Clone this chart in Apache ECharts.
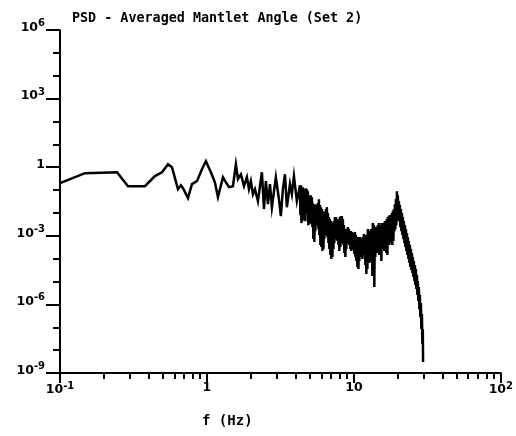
<!DOCTYPE html>
<html>
<head>
<meta charset="utf-8">
<script src="https://cdn.jsdelivr.net/npm/echarts@6/dist/echarts.min.js"></script>
<style>
html,body{margin:0;padding:0;background:#fff;}
#chart{width:516px;height:436px;}
</style>
</head>
<body>
<div id="chart"></div>
<script>
// Values, stored as base-10 exponents
// (log10 of frequency in Hz, log10 of PSD).
// Low-frequency part (0.1 .. ~4.2 Hz)
const log10FreqLow = [
  -1.000,-0.830,-0.612,-0.537,-0.422,-0.354,-0.306,-0.265,-0.238,-0.197,
  -0.177,-0.163,-0.129,-0.102,-0.068,-0.034,-0.007,0.027,0.054,0.075,
  0.109,0.129,0.150,0.177,0.197,0.211,0.231,0.252,0.272,0.286,
  0.299,0.313,0.327,0.347,0.374,0.388,0.401,0.415,0.429,0.442,
  0.469,0.490,0.503,0.517,0.531,0.544,0.565,0.578,0.592,0.612,
  0.626
];
const log10PsdLow = [
  -0.70,-0.26,-0.22,-0.83,-0.83,-0.39,-0.22,0.13,0.00,-0.96,
  -0.79,-0.92,-1.35,-0.74,-0.61,-0.09,0.26,-0.22,-0.66,-1.31,
  -0.44,-0.66,-0.87,-0.83,0.13,-0.52,-0.31,-0.83,-0.44,-0.96,
  -0.61,-1.18,-0.96,-1.48,-0.22,-1.83,-0.61,-1.62,-0.74,-1.75,
  -0.44,-1.40,-2.14,-0.96,-0.31,-1.75,-0.74,-1.18,-0.39,-1.48,
  -1.05
];
// Dense high-frequency part (~4.3 .. ~29.7 Hz), alternating band top / bottom
const log10FreqHigh = [
  0.633,0.636, 0.640,0.643, 0.646,0.650, 0.653,0.657, 0.660,0.663,
  0.667,0.670, 0.673,0.677, 0.680,0.684, 0.687,0.690, 0.694,0.697,
  0.701,0.704, 0.707,0.711, 0.714,0.718, 0.721,0.724, 0.728,0.731,
  0.735,0.738, 0.741,0.745, 0.748,0.752, 0.755,0.759, 0.762,0.765,
  0.769,0.772, 0.776,0.779, 0.782,0.786, 0.789,0.793, 0.796,0.799,
  0.803,0.806, 0.810,0.813, 0.816,0.820, 0.823,0.827, 0.830,0.833,
  0.837,0.840, 0.844,0.847, 0.850,0.854, 0.857,0.861, 0.864,0.867,
  0.871,0.874, 0.878,0.881, 0.884,0.888, 0.891,0.895, 0.898,0.901,
  0.905,0.908, 0.912,0.915, 0.918,0.922, 0.925,0.929, 0.932,0.935,
  0.939,0.942, 0.946,0.949, 0.952,0.956, 0.959,0.963, 0.966,0.969,
  0.973,0.976, 0.980,0.983, 0.986,0.990, 0.993,0.997, 1.000,1.003,
  1.007,1.010, 1.014,1.017, 1.020,1.024, 1.027,1.031, 1.034,1.037,
  1.041,1.044, 1.048,1.051, 1.054,1.058, 1.061,1.065, 1.068,1.071,
  1.075,1.078, 1.082,1.085, 1.088,1.092, 1.095,1.099, 1.102,1.105,
  1.109,1.112, 1.116,1.119, 1.122,1.126, 1.129,1.133, 1.136,1.139,
  1.143,1.146, 1.150,1.153, 1.156,1.160, 1.163,1.167, 1.170,1.173,
  1.177,1.180, 1.184,1.187, 1.190,1.194, 1.197,1.201, 1.204,1.207,
  1.211,1.214, 1.218,1.221, 1.224,1.228, 1.231,1.235, 1.238,1.241,
  1.245,1.248, 1.252,1.255, 1.259,1.262, 1.265,1.269, 1.272,1.276,
  1.279,1.282, 1.286,1.289, 1.293,1.296, 1.299,1.303, 1.306,1.310,
  1.313,1.316, 1.320,1.323, 1.327,1.330, 1.333,1.337, 1.340,1.344,
  1.347,1.350, 1.354,1.357, 1.361,1.364, 1.367,1.371, 1.374,1.378,
  1.381,1.384, 1.388,1.391, 1.395,1.398, 1.401,1.405, 1.408,1.412,
  1.415,1.418, 1.422,1.425, 1.429,1.432, 1.435,1.439, 1.442,1.446,
  1.449,1.452, 1.456,1.459, 1.463,1.466, 1.469,1.471
];
const log10PsdHigh = [
  -0.786,-2.096, -0.786,-2.445, -0.961,-2.358, -0.873,-1.921, -0.961,-2.271,
  -1.048,-2.358, -0.917,-2.009, -0.961,-1.834, -1.048,-2.533, -1.223,-2.445,
  -1.397,-2.358, -1.223,-2.489, -1.310,-2.620, -1.572,-3.144, -1.659,-3.275,
  -1.616,-2.795, -1.747,-2.533, -1.659,-2.358, -1.572,-2.707, -1.397,-2.969,
  -1.659,-3.406, -1.747,-3.493, -1.834,-3.668, -1.921,-3.581, -2.052,-3.144,
  -1.965,-2.969, -1.834,-2.882, -1.747,-3.057, -2.009,-3.319, -2.183,-3.581,
  -2.271,-3.843, -2.358,-4.017, -2.445,-3.930, -2.489,-3.581, -2.358,-3.319,
  -2.183,-3.144, -2.183,-2.969, -2.271,-3.231, -2.402,-3.406, -2.271,-3.668,
  -2.183,-3.493, -2.140,-3.319, -2.140,-3.144, -2.271,-3.406, -2.533,-3.756,
  -2.707,-3.930, -2.795,-3.581, -2.707,-3.319, -2.620,-3.231, -2.707,-3.406,
  -2.795,-3.581, -2.795,-3.668, -2.838,-3.493, -2.969,-3.581, -2.882,-3.799,
  -2.838,-3.930, -2.969,-4.105, -3.057,-4.367, -3.057,-4.454, -3.144,-4.105,
  -3.057,-3.843, -3.144,-3.930, -3.231,-4.017, -3.057,-3.799, -2.926,-3.843,
  -2.969,-4.280, -3.144,-4.672, -2.969,-4.454, -2.707,-4.105, -2.795,-4.192,
  -2.882,-3.930, -2.707,-4.105, -2.795,-4.760, -2.445,-4.367, -2.533,-5.240,
  -2.620,-3.930, -2.707,-3.668, -2.620,-3.756, -2.533,-3.581, -2.445,-3.843,
  -2.533,-3.668, -2.533,-4.105, -2.445,-3.581, -2.489,-3.493, -2.445,-3.668,
  -2.358,-3.406, -2.358,-3.756, -2.271,-3.843, -2.183,-3.319, -2.140,-3.406,
  -2.096,-3.144, -2.183,-3.319, -2.009,-3.406, -1.921,-3.231, -1.834,-2.795,
  -1.616,-2.707, -1.397,-2.533, -1.048,-2.358, -1.223,-2.183, -1.485,-2.358,
  -1.659,-2.620, -1.834,-2.795, -2.009,-2.969, -2.183,-3.144, -2.358,-3.319,
  -2.533,-3.493, -2.707,-3.668, -2.882,-3.843, -3.057,-4.017, -3.231,-4.192,
  -3.406,-4.367, -3.581,-4.498, -3.756,-4.629, -3.930,-4.803, -4.105,-4.978,
  -4.280,-5.153, -4.454,-5.328, -4.716,-5.590, -4.978,-5.852, -5.240,-6.201,
  -5.590,-6.550, -5.939,-7.074, -6.419,-7.729, -7.074,-8.515
];
const titleText = 'PSD - Averaged Mantlet Angle (Set 2)';
const xAxisTitle = 'f (Hz)';
const xMajorTicks = [0.1, 1, 10, 100];
const xMinorTicks = [0.2,0.3,0.4,0.5,0.6,0.7,0.8,0.9,2,3,4,5,6,7,8,9,20,30,40,50,60,70,80,90];
const yMajorTicks = [1e-9,1e-6,1e-3,1,1e3,1e6];
const yMinorTicks = [1e-8,1e-7,1e-5,1e-4,1e-2,1e-1,1e1,1e2,1e4,1e5];

const log10Freq = log10FreqLow.concat(log10FreqHigh);
const log10Psd = log10PsdLow.concat(log10PsdHigh);
const seriesData = log10Freq.map((lf, i) => [Math.pow(10, lf), Math.pow(10, log10Psd[i])]);

const FONT = 'DejaVu Sans';
const rich = {
  b: {fontFamily: FONT, fontSize: 12.5, fontWeight: 'bold', color: '#000'},
  s: {fontFamily: FONT, fontSize: 10, fontWeight: 'bold', color: '#000', padding: [0, 0, 8, 0]}
};
function powLabel(v) {
  const e = Math.round(Math.log10(v));
  if (e === 0) return '{b|1}';
  if (e === 1) return '{b|10}';
  return '{b|10}{s|' + (e < 0 ? '-' + (-e) : e) + '}';
}
const tickStyle = {color: '#000', width: 2};

const chart = echarts.init(document.getElementById('chart'), null, {renderer: 'canvas'});
chart.setOption({
  animation: false,
  backgroundColor: '#fff',
  title: [
    {text: titleText, left: 67, top: 7,
     textStyle: {fontFamily: 'DejaVu Sans Mono', fontSize: 13.4, fontWeight: 'bold', color: '#000'}},
    {text: xAxisTitle, left: 197, top: 409,
     textStyle: {fontFamily: 'DejaVu Sans Mono', fontSize: 14, fontWeight: 'bold', color: '#000'}}
  ],
  grid: {left: 60, right: 14, top: 30, bottom: 63, containLabel: false},
  xAxis: [
    {
      type: 'log', logBase: 10, min: 0.1, max: 100,
      axisLine: {show: true, lineStyle: {color: '#000', width: 2}},
      axisTick: {show: true, customValues: xMajorTicks, length: 10, lineStyle: tickStyle},
      axisLabel: {show: true, customValues: xMajorTicks, formatter: powLabel, rich: rich, margin: 8},
      splitLine: {show: false}
    },
    {
      type: 'log', logBase: 10, min: 0.1, max: 100, position: 'bottom',
      axisLine: {show: false},
      axisTick: {show: true, customValues: xMinorTicks, length: 6, lineStyle: tickStyle},
      axisLabel: {show: false},
      splitLine: {show: false}
    }
  ],
  yAxis: [
    {
      type: 'log', logBase: 10, min: 1e-9, max: 1e6,
      axisLine: {show: true, lineStyle: {color: '#000', width: 2}},
      axisTick: {show: true, customValues: yMajorTicks, length: 14, lineStyle: tickStyle},
      axisLabel: {show: true, customValues: yMajorTicks, formatter: powLabel, rich: rich, margin: 15,
                  verticalAlign: 'middle', padding: [0, 0, 5, 0]},
      splitLine: {show: false}
    },
    {
      type: 'log', logBase: 10, min: 1e-9, max: 1e6, position: 'left',
      axisLine: {show: false},
      axisTick: {show: true, customValues: yMinorTicks, length: 7, lineStyle: tickStyle},
      axisLabel: {show: false},
      splitLine: {show: false}
    }
  ],
  series: [{
    type: 'line',
    data: seriesData,
    showSymbol: false,
    symbol: 'none',
    lineStyle: {color: '#000', width: 2.5, join: 'miter'},
    clip: false
  }]
});
</script>
</body>
</html>
